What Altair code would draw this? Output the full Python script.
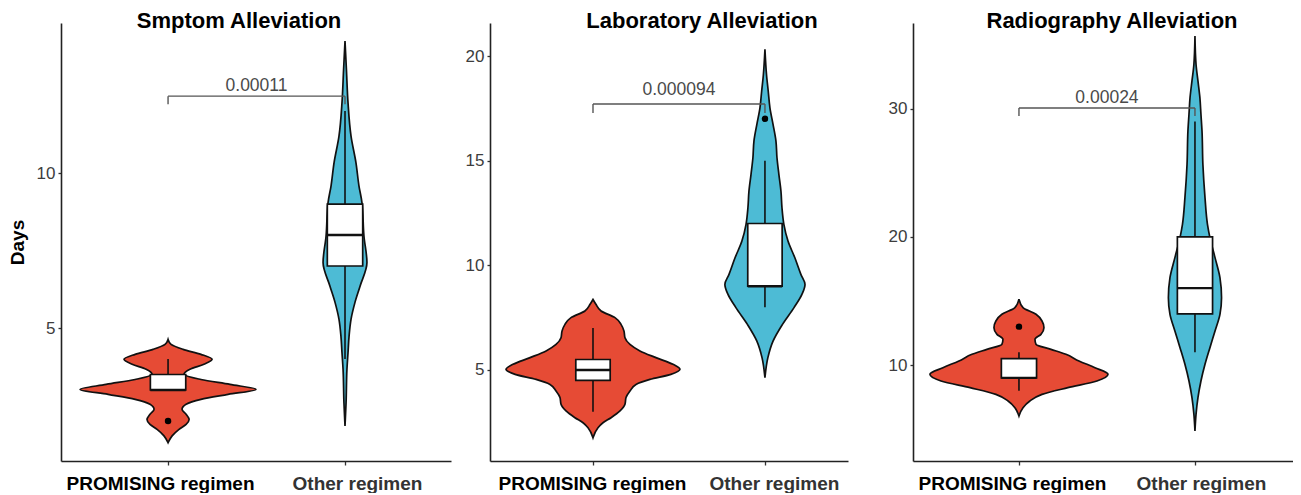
import altair as alt
import pandas as pd

GROUPS = ["PROMISING regimen", "Other regimen"]
POSITIONS = [1, 2]
FILL_COLORS = ["#E64B35", "#4DBBD5"]
PANEL_TITLES = ["Smptom Alleviation", "Laboratory Alleviation", "Radiography Alleviation"]
P_LABELS = ["0.00011", "0.000094", "0.00024"]

# ---- violin outlines: days and half-width (in category units) ----
sym_prom_days = [4.63, 4.47, 4.31, 4.15, 3.99, 3.83, 3.67, 3.51, 3.34, 3.18, 3.02, 2.86, 2.70, 2.54, 2.38, 2.22, 2.05, 1.89, 1.73, 1.52, 1.30]
sym_prom_half = [0, 0.017, 0.085, 0.186, 0.249, 0.203, 0.124, 0.090, 0.186, 0.350, 0.497, 0.339, 0.186, 0.102, 0.079, 0.102, 0.119, 0.102, 0.062, 0.023, 0]
sym_other_days = [14.26, 13.34, 12.27, 11.19, 10.33, 9.58, 9.04, 7.97, 7.11, 6.35, 5.82, 5.28, 4.74, 4.20, 3.67, 2.59, 1.84]
sym_other_half = [0, 0.008, 0.017, 0.034, 0.062, 0.079, 0.096, 0.107, 0.124, 0.085, 0.056, 0.034, 0.023, 0.017, 0.011, 0.006, 0]

lab_prom_days = [8.37, 8.14, 7.82, 7.50, 7.18, 6.86, 6.54, 6.22, 5.91, 5.59, 5.27, 5.03, 4.79, 4.55, 4.31, 3.99, 3.68, 3.36, 3.04, 2.72, 2.48, 2.24, 1.76]
lab_prom_half = [0, 0.017, 0.047, 0.128, 0.163, 0.180, 0.186, 0.215, 0.273, 0.366, 0.465, 0.506, 0.453, 0.331, 0.250, 0.215, 0.192, 0.186, 0.157, 0.105, 0.058, 0.029, 0]
lab_other_days = [20.32, 19.12, 18.33, 17.53, 16.74, 15.94, 15.14, 14.35, 13.55, 12.75, 11.96, 11.16, 10.36, 9.57, 9.09, 8.61, 7.98, 7.18, 6.38, 5.59, 4.63]
lab_other_half = [0, 0.009, 0.019, 0.029, 0.047, 0.064, 0.070, 0.081, 0.093, 0.099, 0.110, 0.134, 0.174, 0.209, 0.233, 0.215, 0.169, 0.102, 0.047, 0.017, 0]

rad_prom_days = [15.13, 14.48, 13.96, 13.44, 12.92, 12.40, 12.01, 11.62, 11.23, 10.84, 10.32, 9.80, 9.28, 8.76, 8.24, 7.72, 7.20, 6.68, 6.03]
rad_prom_half = [0, 0.023, 0.097, 0.131, 0.142, 0.125, 0.091, 0.097, 0.182, 0.267, 0.341, 0.432, 0.506, 0.443, 0.278, 0.131, 0.062, 0.023, 0]
rad_other_days = [35.67, 33.46, 32.16, 30.86, 29.56, 28.26, 25.66, 23.06, 20.98, 19.94, 18.38, 16.82, 15.26, 13.96, 12.66, 11.36, 10.06, 8.76, 7.46, 6.16, 4.86]
rad_other_half = [0, 0.006, 0.017, 0.028, 0.034, 0.040, 0.045, 0.057, 0.071, 0.085, 0.114, 0.142, 0.151, 0.142, 0.114, 0.085, 0.057, 0.034, 0.017, 0.006, 0]

# ---- box statistics (PROMISING, Other) ----
sym_q1, sym_med, sym_q3, sym_lo, sym_hi = [3, 7], [3, 8], [3.5, 9], [3, 4], [4, 12]
lab_q1, lab_med, lab_q3, lab_lo, lab_hi = [4.5, 9], [5, 9], [5.5, 12], [3, 8], [7, 15]
rad_q1, rad_med, rad_q3, rad_lo, rad_hi = [9, 14], [9, 16], [10.5, 20], [8, 11], [11, 29]

# outliers: (position, days)
sym_out_pos, sym_out_days = [1], [2]
lab_out_pos, lab_out_days = [2], [17]
rad_out_pos, rad_out_days = [1], [13]

# significance bracket: line level, tick end, label level
bracket_y = [12.48, 17.71, 30.05]
bracket_tick = [12.22, 17.28, 29.43]
label_y = [12.81, 18.38, 30.83]

# axis tick values
sym_ticks = [5, 10]
lab_ticks = [5, 10, 15, 20]
rad_ticks = [10, 20, 30]

FONT = "Liberation Sans"
BOX_HALF = 0.1


def panel(title, title_dx, prom_days, prom_half, other_days, other_half,
          q1, med, q3, lo, hi, out_pos, out_days, br_y, br_tick, lab_y, p_label,
          y_domain, y_ticks, x_domain, width, height, y_title, extent, lab_off):
    rows = []
    for g, pos, days, half in [(GROUPS[0], POSITIONS[0], prom_days, prom_half),
                               (GROUPS[1], POSITIONS[1], other_days, other_half)]:
        for d, h in zip(days, half):
            rows.append({"group": g, "days": d, "xl": pos - h, "xr": pos + h})
    vdf = pd.DataFrame(rows)
    bdf = pd.DataFrame({
        "group": GROUPS, "pos": POSITIONS, "q1": q1, "med": med, "q3": q3,
        "lo": lo, "hi": hi,
        "bl": [p - BOX_HALF for p in POSITIONS], "br": [p + BOX_HALF for p in POSITIONS],
    })
    odf = pd.DataFrame({"pos": out_pos, "days": out_days})
    hdf = pd.DataFrame({"x1": [POSITIONS[0]], "x2": [POSITIONS[1]], "by": [br_y]})
    tdf = pd.DataFrame({"pos": POSITIONS, "by": [br_y, br_y], "bt": [br_tick, br_tick]})
    ldf = pd.DataFrame({"tx": [sum(POSITIONS) / 2], "ty": [lab_y], "label": [p_label]})

    xs = alt.Scale(domain=x_domain, nice=False, zero=False)
    ys = alt.Scale(domain=y_domain, nice=False, zero=False)
    xaxis = alt.Axis(
        values=POSITIONS, title=None, grid=False,
        labelExpr="datum.value == 1 ? 'PROMISING regimen' : 'Other regimen'",
        labelFontSize=19, labelFontWeight="bold", labelLimit=400,
        labelColor={"condition": {"test": "datum.value == 2", "value": "#333333"}, "value": "black"},
        labelOffset={"condition": {"test": "datum.value == 2", "value": lab_off[1]}, "value": lab_off[0]},
        labelPadding=9, tickSize=4, labelFont=FONT,
    )
    yaxis_kw = dict(values=y_ticks, grid=False, labelFontSize=17, labelColor="#3d3d3d",
                    labelPadding=3, tickSize=3, minExtent=extent, maxExtent=extent,
                    labelFont=FONT)
    if y_title:
        yaxis = alt.Axis(title=y_title, titleFontSize=19, titleFontWeight="bold",
                         titleColor="black", titlePadding=8, titleFont=FONT, **yaxis_kw)
    else:
        yaxis = alt.Axis(title=None, **yaxis_kw)

    def X(f, **kw):
        return alt.X(f, type="quantitative", scale=xs, axis=xaxis, **kw)

    def Y(f, **kw):
        return alt.Y(f, type="quantitative", scale=ys, axis=yaxis, **kw)

    violins = alt.Chart(vdf).mark_area(
        orient="horizontal", interpolate="monotone", stroke="#111111",
        strokeWidth=1.7, fillOpacity=1
    ).encode(
        y=Y("days"), x=X("xl", stack=False), x2="xr",
        color=alt.Color("group:N", scale=alt.Scale(domain=GROUPS, range=FILL_COLORS), legend=None),
    )
    whisk_lo = alt.Chart(bdf).mark_rule(color="#111111", strokeWidth=1.6).encode(
        x=X("pos"), y=Y("lo"), y2="q1")
    whisk_hi = alt.Chart(bdf).mark_rule(color="#111111", strokeWidth=1.6).encode(
        x=X("pos"), y=Y("q3"), y2="hi")
    boxes = alt.Chart(bdf).mark_rect(fill="white", stroke="#111111", strokeWidth=1.7).encode(
        x=X("bl"), x2="br", y=Y("q1"), y2="q3")
    medians = alt.Chart(bdf).mark_rule(color="#111111", strokeWidth=2.4).encode(
        x=X("bl"), x2="br", y=Y("med"))
    outliers = alt.Chart(odf).mark_circle(color="black", size=42, opacity=1).encode(
        x=X("pos"), y=Y("days"))
    bracket = alt.Chart(hdf).mark_rule(color="#555555", strokeWidth=1.4).encode(
        x=X("x1"), x2="x2", y=Y("by"))
    ticks = alt.Chart(tdf).mark_rule(color="#555555", strokeWidth=1.4).encode(
        x=X("pos"), y=Y("by"), y2="bt")
    plabel = alt.Chart(ldf).mark_text(fontSize=17.5, color="#4a4a4a", font=FONT,
                                      baseline="middle", align="center").encode(
        x=X("tx"), y=Y("ty"), text="label:N")

    return alt.layer(violins, whisk_lo, whisk_hi, boxes, medians, outliers,
                     bracket, ticks, plabel).properties(
        width=width, height=height,
        title=alt.TitleParams(title, fontSize=22, fontWeight="bold", color="black",
                              anchor="middle", frame="group", offset=-10, dx=title_dx,
                              font=FONT),
    )


H = 438
p1 = panel(PANEL_TITLES[0], -17, sym_prom_days, sym_prom_half, sym_other_days, sym_other_half,
           sym_q1, sym_med, sym_q3, sym_lo, sym_hi, sym_out_pos, sym_out_days,
           bracket_y[0], bracket_tick[0], label_y[0], P_LABELS[0],
           [0.71, 14.84], sym_ticks, [0.395, 2.599], 390, H, "Days", 26, [-8, 12])
p2 = panel(PANEL_TITLES[1], 33, lab_prom_days, lab_prom_half, lab_other_days, lab_other_half,
           lab_q1, lab_med, lab_q3, lab_lo, lab_hi, lab_out_pos, lab_out_days,
           bracket_y[1], bracket_tick[1], label_y[1], P_LABELS[1],
           [0.65, 21.58], lab_ticks, [0.401, 2.483], 358, H, None, 35, [-1, 9])
p3 = panel(PANEL_TITLES[2], 9, rad_prom_days, rad_prom_half, rad_other_days, rad_other_half,
           rad_q1, rad_med, rad_q3, rad_lo, rad_hi, rad_out_pos, rad_out_days,
           bracket_y[2], bracket_tick[2], label_y[2], P_LABELS[2],
           [2.52, 36.68], rad_ticks, [0.398, 2.557], 380, H, None, 61, [-7, 6])

chart = alt.hconcat(p1, p2, p3, spacing=4).properties(
    padding={"left": 0, "top": 2, "right": 0, "bottom": 0}
).configure(font=FONT).configure_view(strokeWidth=0).configure_axis(
    domainColor="#222222", domainWidth=1.6, tickColor="#333333", tickWidth=1.3
)

chart.save("out.html", embed_options={"renderer": "svg", "actions": False})
